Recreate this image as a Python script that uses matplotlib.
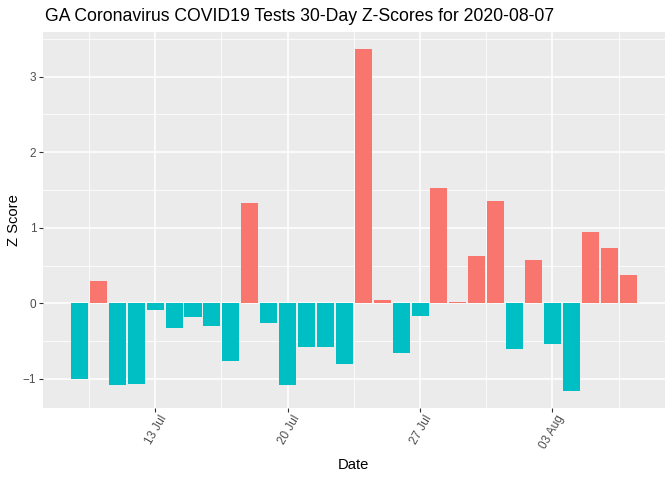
#### Workspace setup ####
import pandas as pd
import matplotlib
matplotlib.use("Agg")
import matplotlib.pyplot as plt
import matplotlib.dates as mdates
import matplotlib.transforms as mtransforms
from matplotlib.ticker import FixedLocator

plt.rcParams["font.family"] = ["Liberation Sans", "DejaVu Sans"]

# 1) Data
dates = pd.date_range("2020-07-09", "2020-08-07", freq="D")
z_scores = [
    -1.00, 0.30, -1.08, -1.07, -0.09, -0.33, -0.18, -0.30, -0.76, 1.33,
    -0.26, -1.08, -0.58, -0.58, -0.81, 3.37, 0.05, -0.66, -0.17, 1.52,
    0.02, 0.63, 1.35, -0.60, 0.57, -0.54, -1.16, 0.94, 0.73, 0.37,
]
major_days = ["2020-07-13", "2020-07-20", "2020-07-27", "2020-08-03"]
tick_labels = ["13 Jul", "20 Jul", "27 Jul", "03 Aug"]

pos_col = "#F8766D"
neg_col = "#00BFC4"
colors = [pos_col if z > 0 else neg_col for z in z_scores]

# 2) Plot
fig = plt.figure(figsize=(6.72, 4.8), dpi=100)
ax = fig.add_axes([0.0635, 0.150, 0.926, 0.784])
ax.set_facecolor("#EBEBEB")

x = mdates.date2num(dates)
ax.bar(x, z_scores, width=0.9, color=colors, zorder=3)

# ggplot-ish expansion (5% each side)
lo, hi = x[0] - 0.45, x[-1] + 0.45
pad = 0.05 * (hi - lo)
ax.set_xlim(lo - pad, hi + pad)
ymin, ymax = min(min(z_scores), 0), max(max(z_scores), 0)
ypad = 0.05 * (ymax - ymin)
ax.set_ylim(ymin - ypad, ymax + ypad)

major_x = mdates.date2num(pd.to_datetime(major_days))
ax.set_xticks(major_x)
ax.set_xticklabels(tick_labels, rotation=60, ha="right", va="top",
                   rotation_mode="anchor")
step = major_x[1] - major_x[0]
minor_x = [major_x[0] - step / 2] + [m + step / 2 for m in major_x]
ax.xaxis.set_minor_locator(FixedLocator(minor_x))

ax.set_yticks([-1, 0, 1, 2, 3])
ax.yaxis.set_minor_locator(FixedLocator([-0.5, 0.5, 1.5, 2.5, 3.5]))

ax.grid(which="major", color="white", linewidth=1.1, zorder=0)
ax.grid(which="minor", color="white", linewidth=0.55, zorder=0)
ax.set_axisbelow(True)

for s in ax.spines.values():
    s.set_visible(False)
ax.tick_params(which="major", length=2.64, width=0.8, color="#333333",
               labelcolor="#4D4D4D", labelsize=8.45, pad=2)
ax.tick_params(axis="x", which="major", pad=1)
ax.tick_params(which="minor", length=0)

# nudge rotated date labels a little to the right, as ggplot places them
shift = mtransforms.ScaledTranslation(4 / 100, 0, fig.dpi_scale_trans)
for lab in ax.get_xticklabels():
    lab.set_transform(lab.get_transform() + shift)

ax.set_xlabel("Date", fontsize=10.6, labelpad=5)
ax.set_ylabel("Z Score", fontsize=10.6, labelpad=1)
fig.text(0.0665, 0.957, "GA Coronavirus COVID19 Tests 30-Day Z-Scores for 2020-08-07",
         fontsize=12.7, ha="left", va="baseline")

plt.savefig("out.png", dpi=100)
